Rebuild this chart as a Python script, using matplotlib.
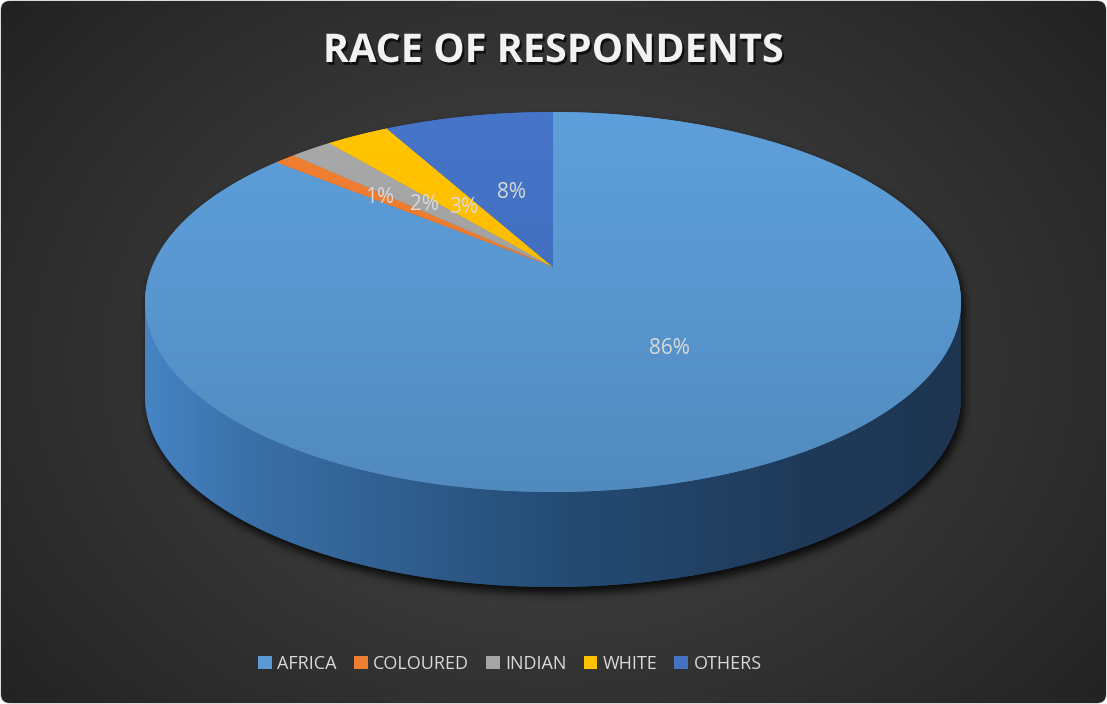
import numpy as np
import matplotlib
matplotlib.use("Agg")
import matplotlib.pyplot as plt
from matplotlib.patches import Polygon, FancyBboxPatch, Patch
from matplotlib.path import Path
import matplotlib.patheffects as pe
from matplotlib.colors import to_rgb

# ---- data -------------------------------------------------------------
categories = ["AFRICA", "COLOURED", "INDIAN", "WHITE", "OTHERS"]
shares = [86, 1, 2, 3, 8]
slice_colors = ["#5b9bd5", "#ed7d31", "#a5a5a5", "#ffc000", "#4472c4"]
title = "RACE OF RESPONDENTS"

# ---- canvas in pixel units ---------------------------------------------
W, H = 1107, 704
fig = plt.figure(figsize=(W / 100, H / 100), dpi=100, facecolor="white")
ax = fig.add_axes([0, 0, 1, 1])
ax.set_xlim(0, W)
ax.set_ylim(H, 0)
ax.axis("off")

# rounded dark panel with a radial gradient
panel = FancyBboxPatch((1, 1), W - 2, H - 2, boxstyle="round,pad=0,rounding_size=9",
                       facecolor="none", edgecolor="#bfbfbf", linewidth=0.8, zorder=0)
ax.add_patch(panel)
yy, xx = np.mgrid[0:H, 0:W]
d = np.sqrt(((xx - 553) / 720.0) ** 2 + ((yy - 360) / 560.0) ** 2)
d = np.clip(d, 0, 1)
c_in = np.array([0x4a, 0x4a, 0x4a]) / 255
c_out = np.array([0x22, 0x22, 0x22]) / 255
bg = c_in[None, None, :] * (1 - d[..., None]) + c_out[None, None, :] * d[..., None]
im = ax.imshow(bg, extent=(0, W, H, 0), aspect="auto", zorder=0.5, interpolation="bilinear")
im.set_clip_path(panel)

# ---- 3-D pie projection -------------------------------------------------
CX, CY = 553.0, 267.0          # projected centre of the pie top
RX, RY = 401.0, 183.5          # radii of the tilted disc
PERSP = 0.1842                 # perspective strength (far side shrinks)
DEPTH = 95.0                   # thickness of the pie in pixels


def project(theta_deg, r=1.0):
    """Angle measured clockwise from 12 o'clock on the pie's top surface."""
    t = np.radians(theta_deg)
    u = r * np.sin(t)
    w = r * np.cos(t)
    s = 1 + PERSP * w
    return CX + RX * u / s, CY - RY * w / s


# angles where the rim has vertical tangents (visible wall limits)
side_r = np.degrees(np.arccos(-PERSP))
side_l = 360 - side_r

# silhouette: back arc of the top rim + front arc of the bottom rim
back = np.linspace(-side_r, side_r, 400)
front = np.linspace(side_r, side_l, 400)
bx, by = project(back)
fx, fy = project(front)
sil = np.vstack([np.column_stack([bx, by]),
                 np.column_stack([fx, fy + DEPTH])])

# soft drop shadow underneath the pie
mask = Path(sil + np.array([3.0, 6.0])).contains_points(
    np.column_stack([xx.ravel() + 0.5, yy.ravel() + 0.5])).reshape(H, W).astype(float)


def box_blur(a, r, axis):
    pad = [(0, 0), (0, 0)]
    pad[axis] = (r + 1, r)
    p = np.pad(a, pad, mode="edge")
    c = np.cumsum(p, axis=axis)
    if axis == 0:
        return (c[2 * r + 1:, :] - c[:-2 * r - 1, :]) / (2 * r + 1)
    return (c[:, 2 * r + 1:] - c[:, :-2 * r - 1]) / (2 * r + 1)


for _ in range(3):
    mask = box_blur(box_blur(mask, 4, 0), 4, 1)
shadow = np.zeros((H, W, 4))
shadow[..., 3] = mask * 0.85
ax.imshow(shadow, extent=(0, W, H, 0), aspect="auto", zorder=1, interpolation="bilinear")

# curved front wall (all of it belongs to the largest slice)
wall = np.vstack([np.column_stack([fx, fy]),
                  np.column_stack([fx[::-1], fy[::-1] + DEPTH])])
wall_patch = Polygon(wall, closed=True, facecolor="#2a5586", edgecolor="none", zorder=2)
ax.add_patch(wall_patch)
stops_x = [146, 250, 554, 800, 962]
stops_c = np.array([[70, 132, 196], [58, 112, 168], [37, 76, 117],
                    [31, 58, 89], [29, 53, 81]]) / 255
xs = np.arange(W)
row = np.column_stack([np.interp(xs, stops_x, stops_c[:, k]) for k in range(3)])
wim = ax.imshow(row[None, :, :], extent=(0, W, H, 0), aspect="auto", zorder=2.1,
                interpolation="bilinear")
wim.set_clip_path(wall_patch)

# top surface slices
ys = np.arange(H)
shade = np.interp(ys, [112, 300, 492], [1.03, 0.97, 0.89])
start = 0.0
mids = []
for share, col in zip(shares, slice_colors):
    span = share / sum(shares) * 360
    th = np.linspace(start, start + span, max(int(span * 4), 8))
    px, py = project(th)
    verts = np.vstack([[CX, CY], np.column_stack([px, py])])
    poly = Polygon(verts, closed=True, facecolor=col, edgecolor="none", zorder=3)
    ax.add_patch(poly)
    base = np.array(to_rgb(col))
    grad = np.clip(shade[:, None] * base[None, :], 0, 1)
    gim = ax.imshow(grad[:, None, :], extent=(0, W, H, 0), aspect="auto", zorder=3.1,
                    interpolation="bilinear")
    gim.set_clip_path(poly)
    mids.append(start + span / 2)
    start += span

# percentage labels inside each slice (radius / angle nudges keep them apart)
label_r = [0.49, 0.62, 0.50, 0.42, 0.45]
label_turn = [-8, 0, 0, 0, 0]
total = sum(shares)
for share, mid, r, dt in zip(shares, mids, label_r, label_turn):
    lx, ly = project(mid + dt, r)
    ax.text(lx, ly, f"{share / total * 100:.0f}%", ha="center", va="center",
            fontsize=15, color="#d9d9d9", family="Open Sans", zorder=5)

# title with soft shadow
ax.text(553, 62, title, ha="center", va="baseline", fontsize=28.5, fontweight="bold",
        family="Open Sans", color="#f2f2f2", zorder=5,
        path_effects=[pe.SimplePatchShadow(offset=(1.5, -2), shadow_rgbFace="black", alpha=0.7),
                      pe.Normal()])

# legend
handles = [Patch(facecolor=c, edgecolor="none") for c in slice_colors]
leg = ax.legend(handles, categories, loc="center", bbox_to_anchor=(510 / W, 1 - 664 / H),
                ncol=5, frameon=False, handlelength=0.75, handleheight=0.75,
                handletextpad=0.3, columnspacing=0.95, prop={"family": "Open Sans", "size": 13})
for t in leg.get_texts():
    t.set_color("#d9d9d9")

fig.savefig("out.png", dpi=100, facecolor="white")
